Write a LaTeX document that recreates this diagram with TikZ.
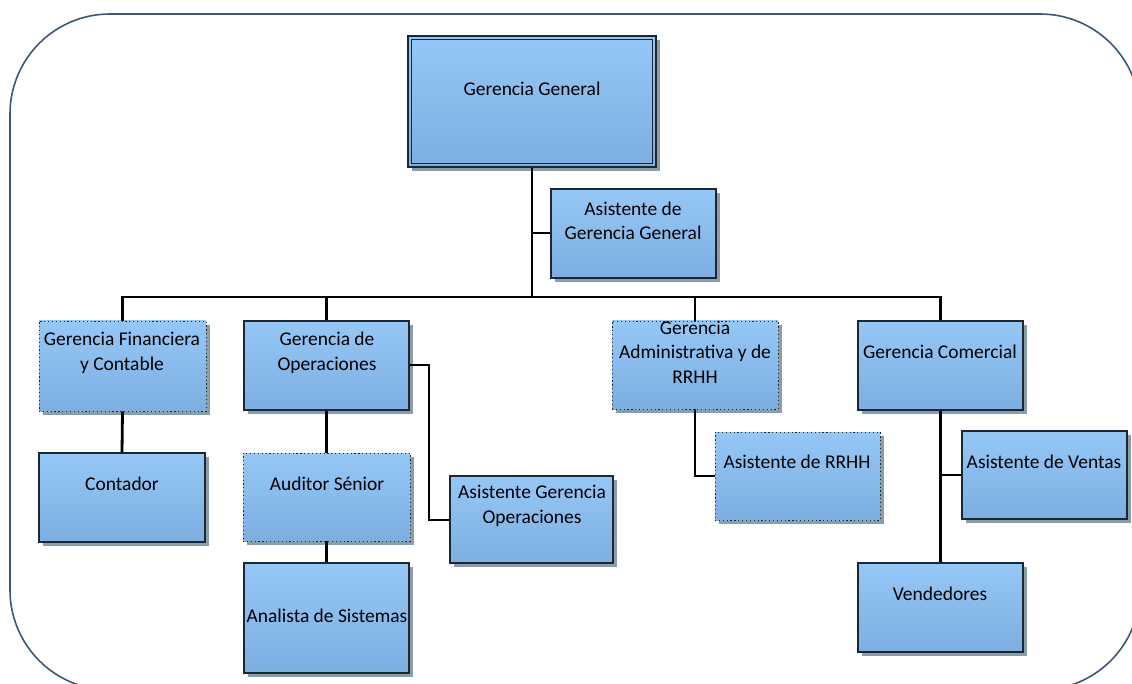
\documentclass[tikz,border=0pt]{standalone}
\usepackage{fontspec}
\setmainfont{Carlito}
\usetikzlibrary{shadows,fit}
\definecolor{boxtop}{HTML}{95C7F6}
\definecolor{boxbot}{HTML}{7CAEE0}
\definecolor{boxline}{HTML}{1C2733}
\definecolor{shadowc}{HTML}{8A9EA8}
\definecolor{frame}{HTML}{3B5878}
\begin{document}
\begin{tikzpicture}[x=0.75pt,y=-0.75pt,
  box/.style={draw=boxline, line width=0.9pt, top color=boxtop, bottom color=boxbot,
    inner sep=0pt, drop shadow={shadow xshift=3pt, shadow yshift=-3pt, fill=shadowc, opacity=1}},
  dotbox/.style={box, dotted, line width=0.7pt},
  txt/.style={font=\fontsize{14.6}{18.4}\selectfont, align=center, text=black, inner sep=0pt},
  conn/.style={draw=black, line width=2.1pt},
  connthin/.style={draw=black, line width=1.5pt}]
\useasboundingbox (0,0) rectangle (1132,684);
\clip (0,0) rectangle (1132,684);
% outer frame
\draw[frame, line width=1.2pt, rounded corners=75pt] (10,14) rectangle (1140,690);
% boxes
\node[box, line width=1.1pt, fit={(408,36) (656,167)}] (gg) {};
\draw[boxline, line width=1.1pt] ([shift={(4,4)}]gg.north west) rectangle ([shift={(-4,-4)}]gg.south east);
\node[box, fit={(551,189) (716,278)}] (agg) {};
\node[dotbox, fit={(39,321) (206,411)}] (gfc) {};
\node[box, fit={(244,321) (409,410)}] (go) {};
\node[dotbox, fit={(612,321) (778,409)}] (ga) {};
\node[box, fit={(858,321) (1023,410)}] (gc) {};
\node[box, fit={(39,453) (205,542)}] (cont) {};
\node[dotbox, fit={(243,453) (410,541)}] (aud) {};
\node[box, fit={(450,476) (613,563)}] (ago) {};
\node[dotbox, fit={(715,432) (880,520)}] (arh) {};
\node[box, fit={(962,431) (1127,519)}] (avt) {};
\node[box, fit={(244,563) (409,673)}] (ana) {};
\node[box, fit={(858,563) (1023,652)}] (ven) {};
% texts
\node[txt] (gg-t) at (532,89) {Gerencia General};
\node[txt] (agg-t) at (633,221) {Asistente de\\Gerencia General};
\node[txt] (gfc-t) at (122,353) {Gerencia Financiera\\y Contable};
\node[txt] (go-t) at (327,353) {Gerencia de\\Operaciones};
\node[txt] (ga-t) at (695,352) {Gerencia\\Administrativa y de\\RRHH};
\node[txt] (gc-t) at (940,352) {Gerencia Comercial};
\node[txt] (cont-t) at (122,484) {Contador};
\node[txt] (aud-t) at (327,484) {Auditor Sénior};
\node[txt] (ago-t) at (532,506) {Asistente Gerencia\\Operaciones};
\node[txt] (arh-t) at (797,462) {Asistente de RRHH};
\node[txt] (avt-t) at (1044,462) {Asistente de Ventas};
\node[txt] (ana-t) at (327,616) {Analista de Sistemas};
\node[txt] (ven-t) at (940,594) {Vendedores};
% connectors
\coordinate (busL) at (122,297);
\coordinate (busR) at (941,297);
\draw[conn] (gg.south) -- (gg.south |- busL);
\draw[conn, line cap=rect] (busL) -- (busR);
\draw[conn] (gfc.north) -- (gfc.north |- busL);
\draw[conn] (go.north) -- (go.north |- busL);
\draw[conn] (ga.north) -- (ga.north |- busL);
\draw[conn] (gc.north) -- (gc.north |- busL);
\draw[connthin] (agg.west) -- (agg.west -| gg.south);
\draw[conn] (gfc.south) -- (cont.north);
\draw[conn] (go.south) -- (aud.north);
\draw[conn] (aud.south) -- (ana.north);
\draw[connthin] (go.east) -- ++(19,0) |- (ago.west);
\draw[conn] (ga.south) |- (arh.west);
\draw[conn] (gc.south) -- (ven.north);
\draw[connthin] (avt.west) -- (avt.west -| gc.south);
\end{tikzpicture}
\end{document}
